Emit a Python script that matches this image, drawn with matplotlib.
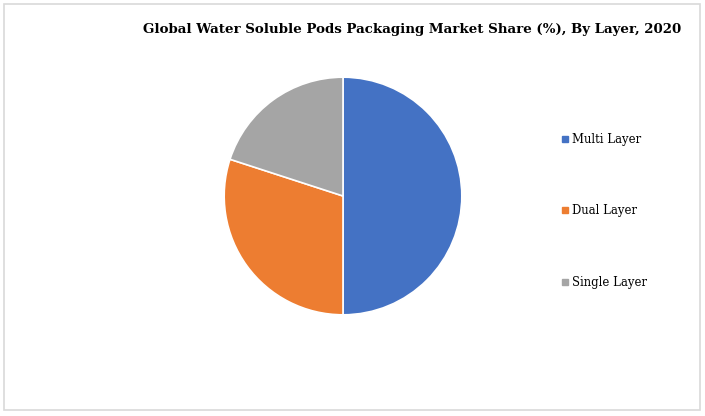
import matplotlib.pyplot as plt
from matplotlib.lines import Line2D
from matplotlib.patches import Rectangle

labels = ['Multi Layer', 'Dual Layer', 'Single Layer']
shares = [50, 30, 20]
colors = ['#4472C4', '#ED7D31', '#A5A5A5']

fig = plt.figure(figsize=(7.05, 4.16), dpi=100)
fig.patches.append(Rectangle((4 / 705, 6 / 416), 696 / 705, 406 / 416, transform=fig.transFigure,
                             fill=False, edgecolor='#D9D9D9', linewidth=1.2))

ax = fig.add_axes([223 / 705, 100 / 416, 240 / 705, 240 / 416])
ax.pie(shares, colors=colors, startangle=90, counterclock=False,
       wedgeprops=dict(edgecolor='white', linewidth=1.2))
ax.set_xlim(-1.01, 1.01)
ax.set_ylim(-1.01, 1.01)
ax.set_aspect('equal')

fig.text(412 / 705, 386 / 416, 'Global Water Soluble Pods Packaging Market Share (%), By Layer, 2020',
         ha='center', va='center', fontsize=9.6, fontweight='bold', family='DejaVu Serif')

handles = [Line2D([], [], marker='s', linestyle='none', markersize=4, color=c) for c in colors]
fig.legend(handles, labels, loc='center left', bbox_to_anchor=(551 / 705, 205 / 416),
           frameon=False, handlelength=0.6, handletextpad=0.3, labelspacing=5.0,
           prop=dict(family='DejaVu Serif', size=8.4))

fig.savefig('out.png', dpi=100)
